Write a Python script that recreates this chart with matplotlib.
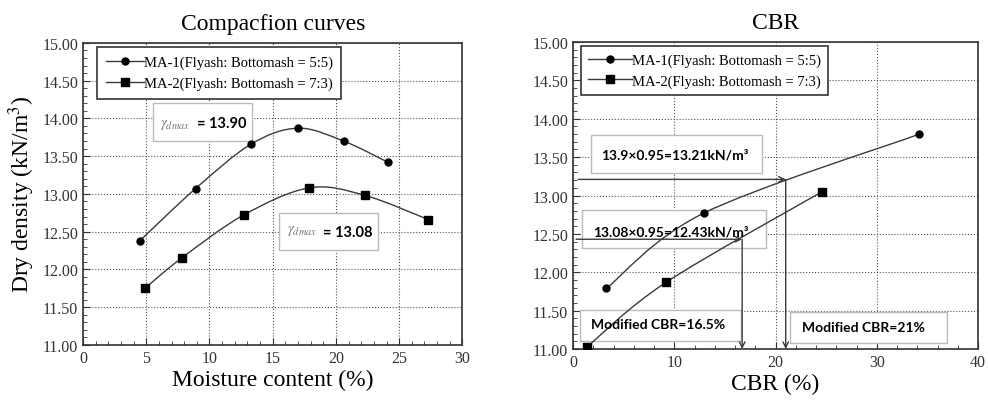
import matplotlib
matplotlib.use('Agg')
import matplotlib.pyplot as plt
from matplotlib.path import Path
from matplotlib.patches import PathPatch
from matplotlib.ticker import MultipleLocator

plt.rcParams['font.family'] = ['Liberation Serif', 'DejaVu Serif']
plt.rcParams['mathtext.fontset'] = 'stix'

# compaction curves
moist_ma1 = [4.5, 8.9, 13.3, 17.0, 20.6, 24.1]
dens_ma1 = [12.38, 13.07, 13.66, 13.87, 13.70, 13.42]
moist_ma2 = [4.9, 7.8, 12.7, 17.9, 22.3, 27.3]
dens_ma2 = [11.75, 12.15, 12.72, 13.08, 12.98, 12.66]

# CBR
cbr_ma1 = [3.3, 12.9, 34.2]
cbr_dens_ma1 = [11.79, 12.77, 13.80]
cbr_ma2 = [1.4, 9.2, 24.6]
cbr_dens_ma2 = [11.03, 11.87, 13.05]

labels = ['MA-1(Flyash: Bottomash = 5:5)', 'MA-2(Flyash: Bottomash = 7:3)']
target_dens = [13.21, 12.43]
target_cbr = [21.0, 16.7]

LINE = '#3a3a3a'
SANS = ['Lato', 'DejaVu Sans']


def smooth(ax, x, y):
    # catmull-rom curve through the points, drawn as bezier path
    pts = list(zip(x, y))
    p = [pts[0]] + pts + [pts[-1]]
    verts = [pts[0]]
    codes = [Path.MOVETO]
    for i in range(1, len(p) - 2):
        p0, p1, p2, p3 = p[i - 1], p[i], p[i + 1], p[i + 2]
        c1 = (p1[0] + (p2[0] - p0[0]) / 6, p1[1] + (p2[1] - p0[1]) / 6)
        c2 = (p2[0] - (p3[0] - p1[0]) / 6, p2[1] - (p3[1] - p1[1]) / 6)
        verts += [c1, c2, p2]
        codes += [Path.CURVE4] * 3
    ax.add_patch(PathPatch(Path(verts, codes), fill=False, edgecolor=LINE, lw=1.0, zorder=2))


def style(ax, xmax, xminor):
    ax.set_xlim(0, xmax)
    ax.set_ylim(11, 15)
    ax.set_axisbelow(True)
    ax.xaxis.set_minor_locator(MultipleLocator(xminor))
    ax.yaxis.set_major_locator(MultipleLocator(0.5))
    ax.yaxis.set_minor_locator(MultipleLocator(0.1))
    ax.yaxis.set_major_formatter(matplotlib.ticker.FormatStrFormatter('%.2f'))
    ax.tick_params(which='both', direction='in', top=False, right=False, labelsize=11.5, colors='#333333')
    ax.tick_params(which='major', length=5)
    ax.tick_params(which='minor', length=3)
    ax.grid(True, which='major', color='#555555', ls=':', lw=0.8)
    for s in ax.spines.values():
        s.set_color('#333333')
        s.set_linewidth(1.2)


def box(ax, x0, y0, x1, y1):
    ax.add_patch(plt.Rectangle((x0, y0), x1 - x0, y1 - y0, fc='white', ec='#bbbbbb', lw=1.0, zorder=1))


fig = plt.figure(figsize=(9.88, 4.06), dpi=100)
ax1 = fig.add_axes([0.084, 0.148, 0.384, 0.744])
ax2 = fig.add_axes([0.580, 0.138, 0.410, 0.756])

# left panel
style(ax1, 30, 1)
ax1.set_xticks([0, 5, 10, 15, 20, 25, 30])
box(ax1, 5.5, 13.70, 13.4, 14.21)
box(ax1, 15.5, 12.26, 23.3, 12.75)
smooth(ax1, moist_ma1, dens_ma1)
smooth(ax1, moist_ma2, dens_ma2)
ax1.plot(moist_ma1, dens_ma1, 'o', color='black', ms=5, zorder=4)
ax1.plot(moist_ma2, dens_ma2, 's', color='black', ms=5.5, zorder=4)
ax1.plot([], [], '-o', color=LINE, mfc='black', mec='black', ms=5, lw=1, label=labels[0])
ax1.plot([], [], '-s', color=LINE, mfc='black', mec='black', ms=5.5, lw=1, label=labels[1])
ax1.text(6.1, 13.93, r'$\gamma_{dmax}$', color='#777777', fontsize=10.5, va='center', zorder=4)
ax1.text(9.0, 13.94, '= 13.90', family=SANS, weight='bold', fontsize=10.5, va='center', zorder=4)
ax1.text(16.1, 12.52, r'$\gamma_{dmax}$', color='#777777', fontsize=10.5, va='center', zorder=4)
ax1.text(19.0, 12.49, '= 13.08', family=SANS, weight='bold', fontsize=10.5, va='center', zorder=4)
ax1.set_title('Compacfion curves', fontsize=17, pad=10)
ax1.set_xlabel('Moisture content (%)', fontsize=17, labelpad=2)
ax1.set_ylabel('Dry density (kN/m$^3$)', fontsize=17, labelpad=4)
leg = ax1.legend(loc='upper left', bbox_to_anchor=(0.037, 0.987), borderaxespad=0, fontsize=10.5,
                 fancybox=False, edgecolor='#333333', framealpha=1, handlelength=2.6,
                 handletextpad=0.0, borderpad=0.6, labelspacing=0.5)
leg.get_frame().set_linewidth(1.2)

# right panel
style(ax2, 40, 2)
ax2.set_xticks([0, 10, 20, 30, 40])
box(ax2, 1.8, 13.29, 18.7, 13.79)
box(ax2, 0.9, 12.32, 19.1, 12.81)
box(ax2, 0.7, 11.11, 16.6, 11.51)
box(ax2, 21.4, 11.08, 36.9, 11.48)
smooth(ax2, cbr_ma1, cbr_dens_ma1)
smooth(ax2, cbr_ma2, cbr_dens_ma2)
ax2.plot(cbr_ma1, cbr_dens_ma1, 'o', color='black', ms=5, zorder=4)
ax2.plot(cbr_ma2, cbr_dens_ma2, 's', color='black', ms=5.5, zorder=4)
ax2.plot([], [], '-o', color=LINE, mfc='black', mec='black', ms=5, lw=1, label=labels[0])
ax2.plot([], [], '-s', color=LINE, mfc='black', mec='black', ms=5.5, lw=1, label=labels[1])

ax2.text(2.8, 13.54, '13.9×0.95=13.21kN/m³', family=SANS, weight='bold', fontsize=10, va='center', zorder=4)
ax2.text(2.0, 12.53, '13.08×0.95=12.43kN/m³', family=SANS, weight='bold', fontsize=10, va='center', zorder=4)
ax2.text(1.8, 11.33, 'Modified CBR=16.5%', family=SANS, weight='bold', fontsize=10, va='center', zorder=4)
ax2.text(22.6, 11.28, 'Modified CBR=21%', family=SANS, weight='bold', fontsize=10, va='center', zorder=4)

for d, c, x0 in zip(target_dens, target_cbr, [0.5, 0.3]):
    ax2.annotate('', xy=(c, d), xytext=(x0, d),
                 arrowprops=dict(arrowstyle='->', color=LINE, lw=1.0, shrinkA=0, shrinkB=0), zorder=5)
    ax2.annotate('', xy=(c, 11.0), xytext=(c, d),
                 arrowprops=dict(arrowstyle='->', color=LINE, lw=1.0, shrinkA=0, shrinkB=0), zorder=5)

ax2.set_title('CBR', fontsize=17, pad=10)
ax2.set_xlabel('CBR (%)', fontsize=17, labelpad=2)
leg2 = ax2.legend(loc='upper left', bbox_to_anchor=(0.02, 0.987), borderaxespad=0, fontsize=10.5,
                  fancybox=False, edgecolor='#333333', framealpha=1, handlelength=3.0,
                  handletextpad=0.0, borderpad=0.5, labelspacing=0.5)
leg2.get_frame().set_linewidth(1.2)

fig.savefig('out.png', dpi=100)
